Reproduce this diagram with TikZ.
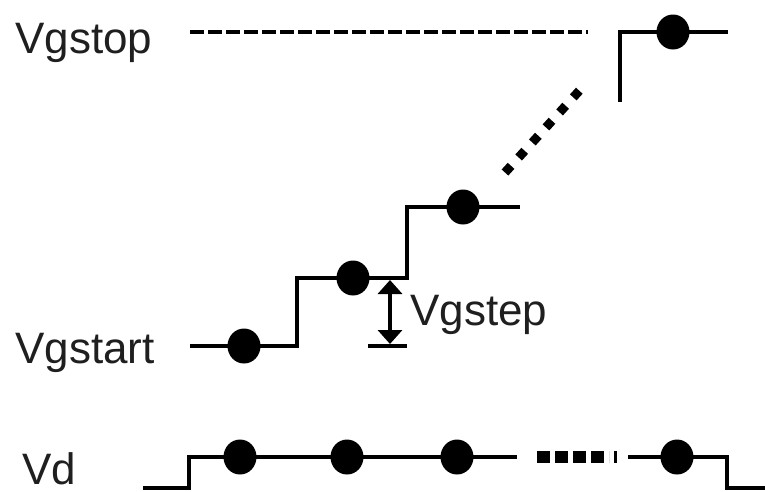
\documentclass[tikz,border=0pt]{standalone}
\usepackage{fontspec}
\setmainfont{Liberation Sans}
\usetikzlibrary{arrows.meta,shapes.geometric}
\begin{document}
\begin{tikzpicture}[x=1pt,y=-1pt,
  wire/.style={line width=4.5pt, line cap=butt, line join=miter},
  dot/.style={ellipse, fill=black, inner sep=0pt, minimum width=33pt, minimum height=35pt},
  lbl/.style={anchor=base west, inner sep=0pt, text=black!88, font=\fontsize{44}{52}\selectfont},
  guide/.style={line width=4.5pt, dash pattern=on 14pt off 4pt},
  gap/.style={line width=9pt, dash pattern=on 9pt off 11.3pt},
  gapflat/.style={line width=12pt, dash pattern=on 13pt off 5pt},
  dimline/.style={line width=3.5pt, >={Triangle[width=24pt,length=14pt]}, <->}]
\useasboundingbox (0,0) rectangle (765,491);

% labels
\node[lbl] (tstop)  at (15,53)  {Vgstop};
\node[lbl] (tstart) at (15,363) {Vgstart};
\node[lbl] (tvd)    at (22,484) {Vd};
\node[lbl] (tstep)  at (410,325) {Vgstep};

% gate staircase
\coordinate (s0) at (190,346);
\coordinate (s1) at (297,346);
\coordinate (s2) at (297,278);
\coordinate (s3) at (407,278);
\coordinate (s4) at (407,207);
\coordinate (s5) at (520,207);
\draw[wire] (s0) -- (s1) -- (s2) -- (s3) -- (s4) -- (s5);
\node[dot] (g1) at (244,346) {};
\node[dot] (g2) at (353,278) {};
\node[dot] (g3) at (463,207) {};

% last gate step at Vgstop
\coordinate (t0) at (620,102);
\coordinate (t1) at (620,32);
\coordinate (t2) at (728,32);
\draw[wire] (t0) -- (t1) -- (t2);
\node[dot] (g4) at (673,32) {};

% Vgstop reference level
\coordinate (r0) at (190,32);
\coordinate (r1) at (588,32);
\draw[guide] (r0) -- (r1);

% omitted steps
\coordinate (d0) at (505,172.5);
\coordinate (d1) at (579.5,90.5);
\draw[gap] (d0) -- (d1);

% Vgstep dimension
\coordinate (a0) at (390,280);
\coordinate (a1) at (390,344);
\coordinate (b0) at (368,346);
\coordinate (b1) at (407,346);
\draw[dimline] (a0) -- (a1);
\draw[line width=3.5pt] (b0) -- (b1);

% drain pulse
\coordinate (v0) at (143,488);
\coordinate (v1) at (189,488);
\coordinate (v2) at (189,457);
\coordinate (v3) at (517,457);
\draw[wire] (v0) -- (v1) -- (v2) -- (v3);
\node[dot] (d1a) at (240,457) {};
\node[dot] (d2a) at (347,457) {};
\node[dot] (d3a) at (457,457) {};

\coordinate (q0) at (537,457);
\coordinate (q1) at (609,457);
\draw[gapflat] (q0) -- (q1);
\coordinate (q2) at (615,451);
\coordinate (q3) at (615,463);
\draw[line width=3pt] (q2) -- (q3);

\coordinate (w0) at (628,457);
\coordinate (w1) at (727,457);
\coordinate (w2) at (727,488);
\coordinate (w3) at (765,488);
\draw[wire] (w0) -- (w1) -- (w2) -- (w3);
\node[dot] (d4a) at (677,457) {};
\end{tikzpicture}
\end{document}
